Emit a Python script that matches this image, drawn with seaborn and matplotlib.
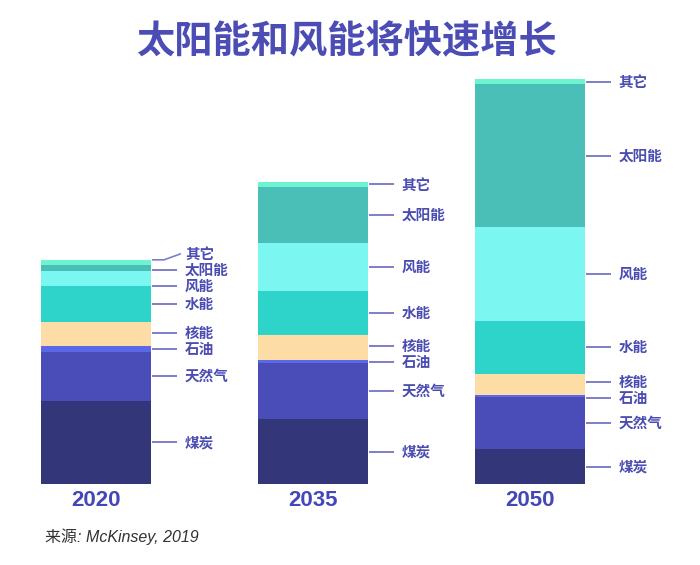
import matplotlib
matplotlib.use("Agg")
import matplotlib.pyplot as plt
import seaborn as sns
import numpy as np
import pandas as pd

# ---------------- data (千TWh) ----------------
years = ["2020", "2035", "2050"]
sources = ["煤炭", "天然气", "石油", "核能", "水能", "风能", "太阳能", "其它"]
coal    = [10.0, 7.8, 4.2]
gas     = [5.9, 6.7, 6.2]
oil     = [0.7, 0.4, 0.3]
nuclear = [2.8, 3.0, 2.5]
hydro   = [4.4, 5.3, 6.4]
wind    = [1.7, 5.7, 11.2]
solar   = [0.8, 6.8, 17.2]
other   = [0.6, 0.5, 0.6]
series = [coal, gas, oil, nuclear, hydro, wind, solar, other]
colors = ["#34367A", "#4A4CB8", "#5C68E8", "#FDDCA6", "#2ED3C9", "#7BF6F0", "#49BFB7", "#6DF3D2"]

title = "太阳能和风能将快速增长"
source_note = "来源: McKinsey, 2019"

# ---------------- style ----------------
sns.set_theme(style="white")
plt.rcParams["font.family"] = ["Noto Sans CJK SC", "DejaVu Sans"]

W, H, DPI = 700, 565, 100
fig = plt.figure(figsize=(W / DPI, H / DPI), dpi=DPI)
ax = fig.add_axes([0, 0, 1, 1])

# layout (pixels)
x0_px, dx_px = 96.0, 216.85      # first bar centre, spacing
base_px = 484.0                   # baseline y from top
px_per_unit = 1 / 0.12            # pixels per data unit
bar_w = 110 / dx_px

df = pd.DataFrame({"year": years})
bottom = np.zeros(len(years))
for name, vals, col in zip(sources, series, colors):
    df["v"] = vals
    sns.barplot(data=df, x="year", y="v", order=years, color=col, width=bar_w,
                bottom=bottom.copy(), linewidth=0, saturation=1, ax=ax, errorbar=None)
    bottom += np.array(vals)

ax.set_xlim(-x0_px / dx_px, (W - x0_px) / dx_px)
ax.set_ylim(-(H - base_px) / px_per_unit, base_px / px_per_unit)
ax.axis("off")


def spread(mids, gap):
    """Cluster-based label de-overlap (labels in increasing order)."""
    clusters = [[i] for i in range(len(mids))]
    pos = {i: mids[i] for i in range(len(mids))}

    def centre(c):
        m = np.mean([mids[i] for i in c])
        n = len(c)
        return [m + (k - (n - 1) / 2) * gap for k in range(n)]

    changed = True
    while changed:
        changed = False
        for k in range(len(clusters) - 1):
            a, b = clusters[k], clusters[k + 1]
            ya = centre(a)[-1]
            yb = centre(b)[0]
            if yb - ya < gap - 1e-9:
                clusters[k] = a + b
                del clusters[k + 1]
                changed = True
                break
    out = np.zeros(len(mids))
    for c in clusters:
        for i, y in zip(c, centre(c)):
            out[i] = y
    return out


# ---------------- labels with leader lines ----------------
label_color = "#4A4CB2"
line_color = "#7E7EC8"
gap = 16 / px_per_unit
tops = np.cumsum(np.array(series), axis=0)
bots = tops - np.array(series)
half = bar_w / 2
u = 1 / dx_px  # one pixel in x data units
for j in range(len(years)):
    mids = (tops[:, j] + bots[:, j]) / 2
    ys = spread(mids, gap)
    xe = j + half
    for i, name in enumerate(sources):
        ly = ys[i]
        y0 = min(max(ly, bots[i, j]), tops[i, j])
        if abs(y0 - ly) * px_per_unit < 2.5:
            ax.plot([xe + u, xe + 26 * u], [ly, ly], color=line_color, lw=1.4,
                    solid_capstyle="butt")
        else:
            ax.plot([xe + u, xe + 13 * u, xe + 30 * u], [y0, y0, ly],
                    color=line_color, lw=1.2, solid_capstyle="butt")
        ax.text(xe + 34 * u, ly, name, ha="left", va="center", fontsize=10.5,
                fontweight="bold", color=label_color)
    ax.annotate(years[j], xy=(j, 0), xytext=(0, -16.5 * 72 / DPI), textcoords="offset points",
                ha="center", va="center", fontsize=16, fontweight="bold",
                color="#4547B8", family=["Liberation Sans", "DejaVu Sans"])

fig.text(346 / W, 1 - 41.5 / H, title, ha="center", va="center", fontsize=27.5,
         fontweight="bold", color="#4B4DB5")
fig.text(45 / W, 1 - 537 / H, source_note, ha="left", va="center", fontsize=11.5,
         style="italic", color="#333333", family=["Liberation Sans", "Noto Sans CJK SC"])

fig.savefig("out.png", dpi=DPI, facecolor="white")
